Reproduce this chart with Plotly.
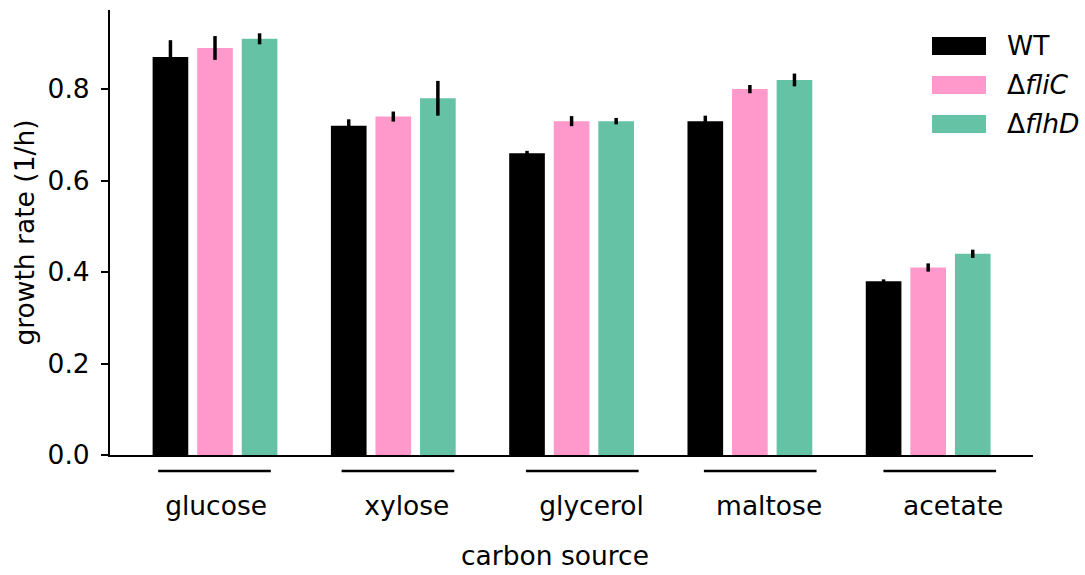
import plotly.graph_objects as go

# ---- data ----
categories = ["glucose", "xylose", "glycerol", "maltose", "acetate"]
strains = ["WT", "Δ<i>fliC</i>", "Δ<i>flhD</i>"]
wt = [0.87, 0.72, 0.66, 0.73, 0.38]
flic = [0.89, 0.74, 0.73, 0.80, 0.41]
flhd = [0.91, 0.78, 0.73, 0.82, 0.44]
wt_err = [0.037, 0.014, 0.005, 0.012, 0.004]
flic_err = [0.026, 0.011, 0.011, 0.009, 0.009]
flhd_err = [0.012, 0.038, 0.007, 0.014, 0.009]
y_ticks = [0.0, 0.2, 0.4, 0.6, 0.8]

# ---- style / layout ----
colors = ["#000000", "#ff99cc", "#66c2a5"]
FONT = "DejaVu Sans"
FS = 26.5
W, H = 1085, 575
ML, MR, MT, MB = 110, 52, 10, 120
label_shift = [0.006, 0.076, 0.112, 0.108, 0.14]
line_shift = [-0.003, 0.026, 0.060, 0.058, 0.065]
line_half = 0.316

xs = list(range(len(categories)))
series = [wt, flic, flhd]
errs = [wt_err, flic_err, flhd_err]

fig = go.Figure()
for name, vals, err, col in zip(strains, series, errs, colors):
    fig.add_trace(go.Bar(
        x=xs, y=vals, name=name,
        marker=dict(color=col, line=dict(width=0)),
        error_y=dict(type="data", array=err, visible=True,
                     color="black", thickness=3.5, width=0),
        showlegend=False,
    ))

pw = W - ML - MR
ph = H - MT - MB

def px2paper_x(px):
    return (px - ML) / pw

def px2paper_y(py):
    return (H - MB - py) / ph

shapes = []
for i in xs:
    c = i + line_shift[i]
    shapes.append(dict(type="line", xref="x", yref="paper",
                       x0=c - line_half, x1=c + line_half,
                       y0=px2paper_y(471), y1=px2paper_y(471),
                       line=dict(color="black", width=2.5)))

annotations = []
# manual legend
leg_y = [46, 85, 124]
for name, col, yc in zip(strains, colors, leg_y):
    shapes.append(dict(type="rect", xref="paper", yref="paper",
                       x0=px2paper_x(932), x1=px2paper_x(986),
                       y0=px2paper_y(yc + 9), y1=px2paper_y(yc - 9),
                       fillcolor=col, line=dict(width=0)))
    annotations.append(dict(xref="paper", yref="paper",
                            x=px2paper_x(1005), y=px2paper_y(yc),
                            xanchor="left", yanchor="middle",
                            text=name, showarrow=False,
                            font=dict(family=FONT, size=FS, color="black")))

# x-axis title
annotations.append(dict(xref="paper", yref="paper",
                        x=px2paper_x(555), y=px2paper_y(555),
                        xanchor="center", yanchor="middle",
                        text="carbon source", showarrow=False,
                        font=dict(family=FONT, size=FS, color="black")))

fig.update_layout(
    width=W, height=H,
    margin=dict(l=ML, r=MR, t=MT, b=MB, pad=0),
    paper_bgcolor="white", plot_bgcolor="white",
    barmode="group", bargap=0.25, bargroupgap=0.2,
    font=dict(family=FONT, size=FS, color="black"),
    shapes=shapes, annotations=annotations,
    xaxis=dict(range=[-0.589, 4.588], showgrid=False, zeroline=False,
               showline=True, linecolor="black", linewidth=2,
               ticks="", tickvals=[i + label_shift[i] for i in xs],
               ticktext=categories, ticklabelstandoff=26,
               tickfont=dict(family=FONT, size=FS, color="black")),
    yaxis=dict(range=[0, 0.973], showgrid=False, zeroline=False,
               showline=True, linecolor="black", linewidth=2,
               ticks="outside", ticklen=7, tickwidth=2, tickcolor="black",
               tickvals=y_ticks, ticktext=[f"{v:.1f}" for v in y_ticks],
               ticklabelstandoff=6,
               tickfont=dict(family=FONT, size=FS, color="black"),
               title=dict(text="growth rate (1/h)", standoff=5,
                          font=dict(family=FONT, size=FS, color="black"))),
)

fig.write_html("out.html")
